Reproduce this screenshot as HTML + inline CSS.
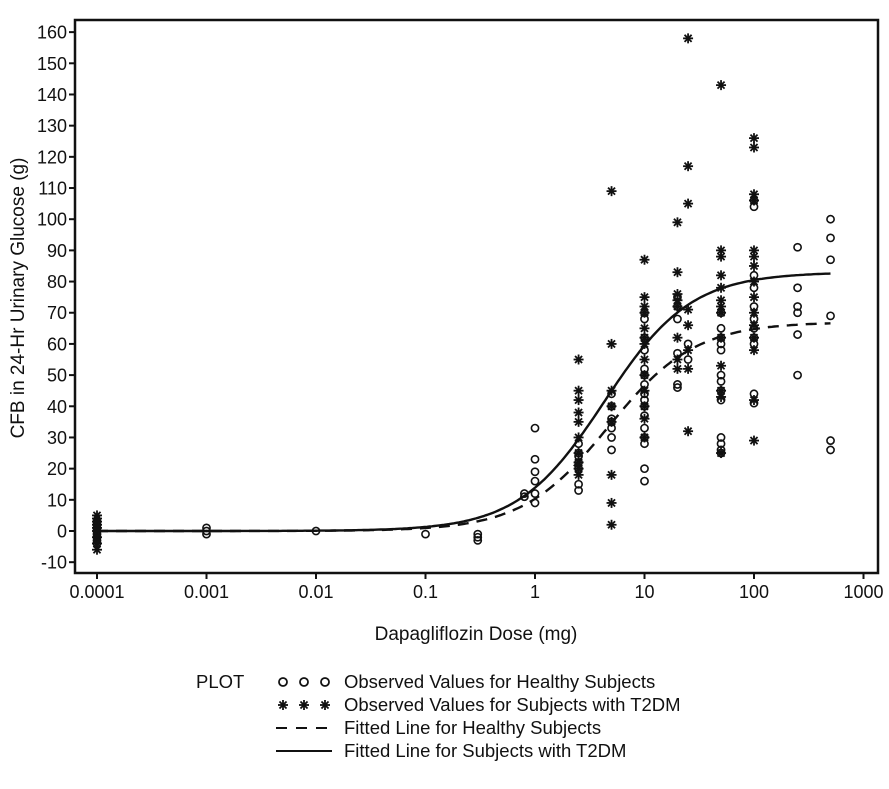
<!DOCTYPE html>
<html><head><meta charset="utf-8"><style>
html,body{margin:0;padding:0;background:#fff;}
svg text{font-family:"Liberation Sans Narrow","Liberation Sans",sans-serif;fill:#111;}
</style></head><body>
<svg id="chart" width="889" height="784" viewBox="0 0 889 784" xmlns="http://www.w3.org/2000/svg">
<rect x="75" y="20" width="803" height="553" fill="none" stroke="#111" stroke-width="2.5"/>
<g id="yaxis"></g>
<g id="xaxis"></g>
<g id="lines"></g>
<g id="pts"></g>
<text transform="translate(24,298) rotate(-90)" text-anchor="middle" font-size="19">CFB in 24-Hr Urinary Glucose (g)</text>
<text x="476" y="640" text-anchor="middle" font-size="19">Dapagliflozin Dose (mg)</text>
<g font-size="18.5">
<text x="196" y="688">PLOT</text>
<g>
<circle cx="283" cy="682" r="4" fill="none" stroke="#111" stroke-width="1.8"/><circle cx="304" cy="682" r="4" fill="none" stroke="#111" stroke-width="1.8"/><circle cx="325" cy="682" r="4" fill="none" stroke="#111" stroke-width="1.8"/>
<text x="344" y="688">Observed Values for Healthy Subjects</text></g>
<g id="legstar"><text x="344" y="711">Observed Values for Subjects with T2DM</text></g>
<g>
<line x1="276" y1="728" x2="332" y2="728" stroke="#111" stroke-width="2" stroke-dasharray="11,9"/>
<text x="344" y="734">Fitted Line for Healthy Subjects</text></g>
<g>
<line x1="276" y1="751" x2="332" y2="751" stroke="#111" stroke-width="2"/>
<text x="344" y="757">Fitted Line for Subjects with T2DM</text></g>
</g>
</svg>
<script>
const yTicks=[-10,0,10,20,30,40,50,60,70,80,90,100,110,120,130,140,150,160];
const xTicks=[0.0001,0.001,0.01,0.1,1,10,100,1000];
const xTickLabels=["0.0001","0.001","0.01","0.1","1","10","100","1000"];
const healthyDoses=[0.0001,0.001,0.01,0.1,0.3,0.8,1,2.5,5,10,20,25,50,100,250,500];
const healthyValues=[
[3,2,1,0,-1,-2,-3,-4],[1,0,-1],[0],[-1],[-1,-2,-3],[12,11],
[33,23,19,16,12,9],[20,15,13,28,25,22,24],[44,40,36,33,30,26,35],
[70,68,62,58,52,47,44,40,37,33,30,28,20,16,50,42],[75,72,68,57,47,46],[60,55],
[70,65,60,50,48,45,42,30,28,26,25,62,58],[82,78,72,68,65,62,60,44,41,106,104],
[91,78,72,70,63,50],[100,94,87,69,29,26]];
const t2dmDoses=[0.0001,2.5,5,10,20,25,50,100];
const t2dmValues=[
[5,4,3,2,1,0,-2,-4,-6],[55,45,42,38,35,30,25,22,20,18],[109,60,45,40,35,18,9,2],
[87,75,72,70,65,62,60,55,50,45,40,36,30],[99,83,76,74,72,62,55,52],
[158,117,105,71,66,58,52,32],[143,90,88,82,78,74,72,70,62,53,45,43,25],
[126,123,108,106,90,88,85,80,75,70,66,62,58,42,29]];
const fitHealthy=[67,4.7,1.1];
const fitT2dm=[83,4.3,1.1];

const NS="http://www.w3.org/2000/svg";
function xs(d){return 97+(Math.log10(d)+4)*109.5;}
function ys(v){return 531-v*3.118;}
function mk(tag,attrs,parent){const e=document.createElementNS(NS,tag);for(const k in attrs)e.setAttribute(k,attrs[k]);parent.appendChild(e);return e;}
const ya=document.getElementById('yaxis'),xa=document.getElementById('xaxis');
yTicks.forEach(v=>{
 const l=mk('line',{x1:69,x2:75,y1:ys(v),y2:ys(v),stroke:'#111','stroke-width':2},ya);
 
 
 const t=mk('text',{x:67,y:ys(v)+6.5,'text-anchor':'end','font-size':18},ya);t.textContent=v;
 
 
});
xTicks.forEach((d,i)=>{
 const l=mk('line',{x1:xs(d),x2:xs(d),y1:573,y2:579,stroke:'#111','stroke-width':2},xa);
 
 
 const t=mk('text',{x:xs(d),y:598,'text-anchor':'middle','font-size':18},xa);t.textContent=xTickLabels[i];
 
 
});
function emax(p,d){const r=Math.pow(d/p[1],p[2]);return p[0]*r/(1+r);}
function curve(p){let s='';for(let i=0;i<=300;i++){const lg=-4+i*(Math.log10(500)+4)/300;const d=Math.pow(10,lg);s+=(i?'L':'M')+xs(d).toFixed(1)+','+ys(emax(p,d)).toFixed(1);}return s;}
const lg=document.getElementById('lines');
const c1=mk('path',{d:curve(fitHealthy),fill:'none',stroke:'#111','stroke-width':2.4,'stroke-dasharray':'11,8'},lg);


const c2=mk('path',{d:curve(fitT2dm),fill:'none',stroke:'#111','stroke-width':2.4},lg);


const pg=document.getElementById('pts');
function star(cx,cy,parent){const g=mk('g',{stroke:'#111','stroke-width':1.8},parent);for(let a=0;a<4;a++){const an=a*Math.PI/4;mk('line',{x1:cx-5*Math.cos(an),y1:cy-5*Math.sin(an),x2:cx+5*Math.cos(an),y2:cy+5*Math.sin(an)},g);}return g;}
healthyDoses.forEach((d,i)=>healthyValues[i].forEach(v=>{
 const c=mk('circle',{cx:xs(d),cy:ys(v),r:3.6,fill:'none',stroke:'#111','stroke-width':1.6},pg);
 
 
}));
t2dmDoses.forEach((d,i)=>t2dmValues[i].forEach(v=>{
 const s=star(xs(d),ys(v),pg);
 
 
}));
const ls=document.getElementById('legstar');
[283,304,325].forEach(x=>star(x,705,ls));
</script>
</body></html>
